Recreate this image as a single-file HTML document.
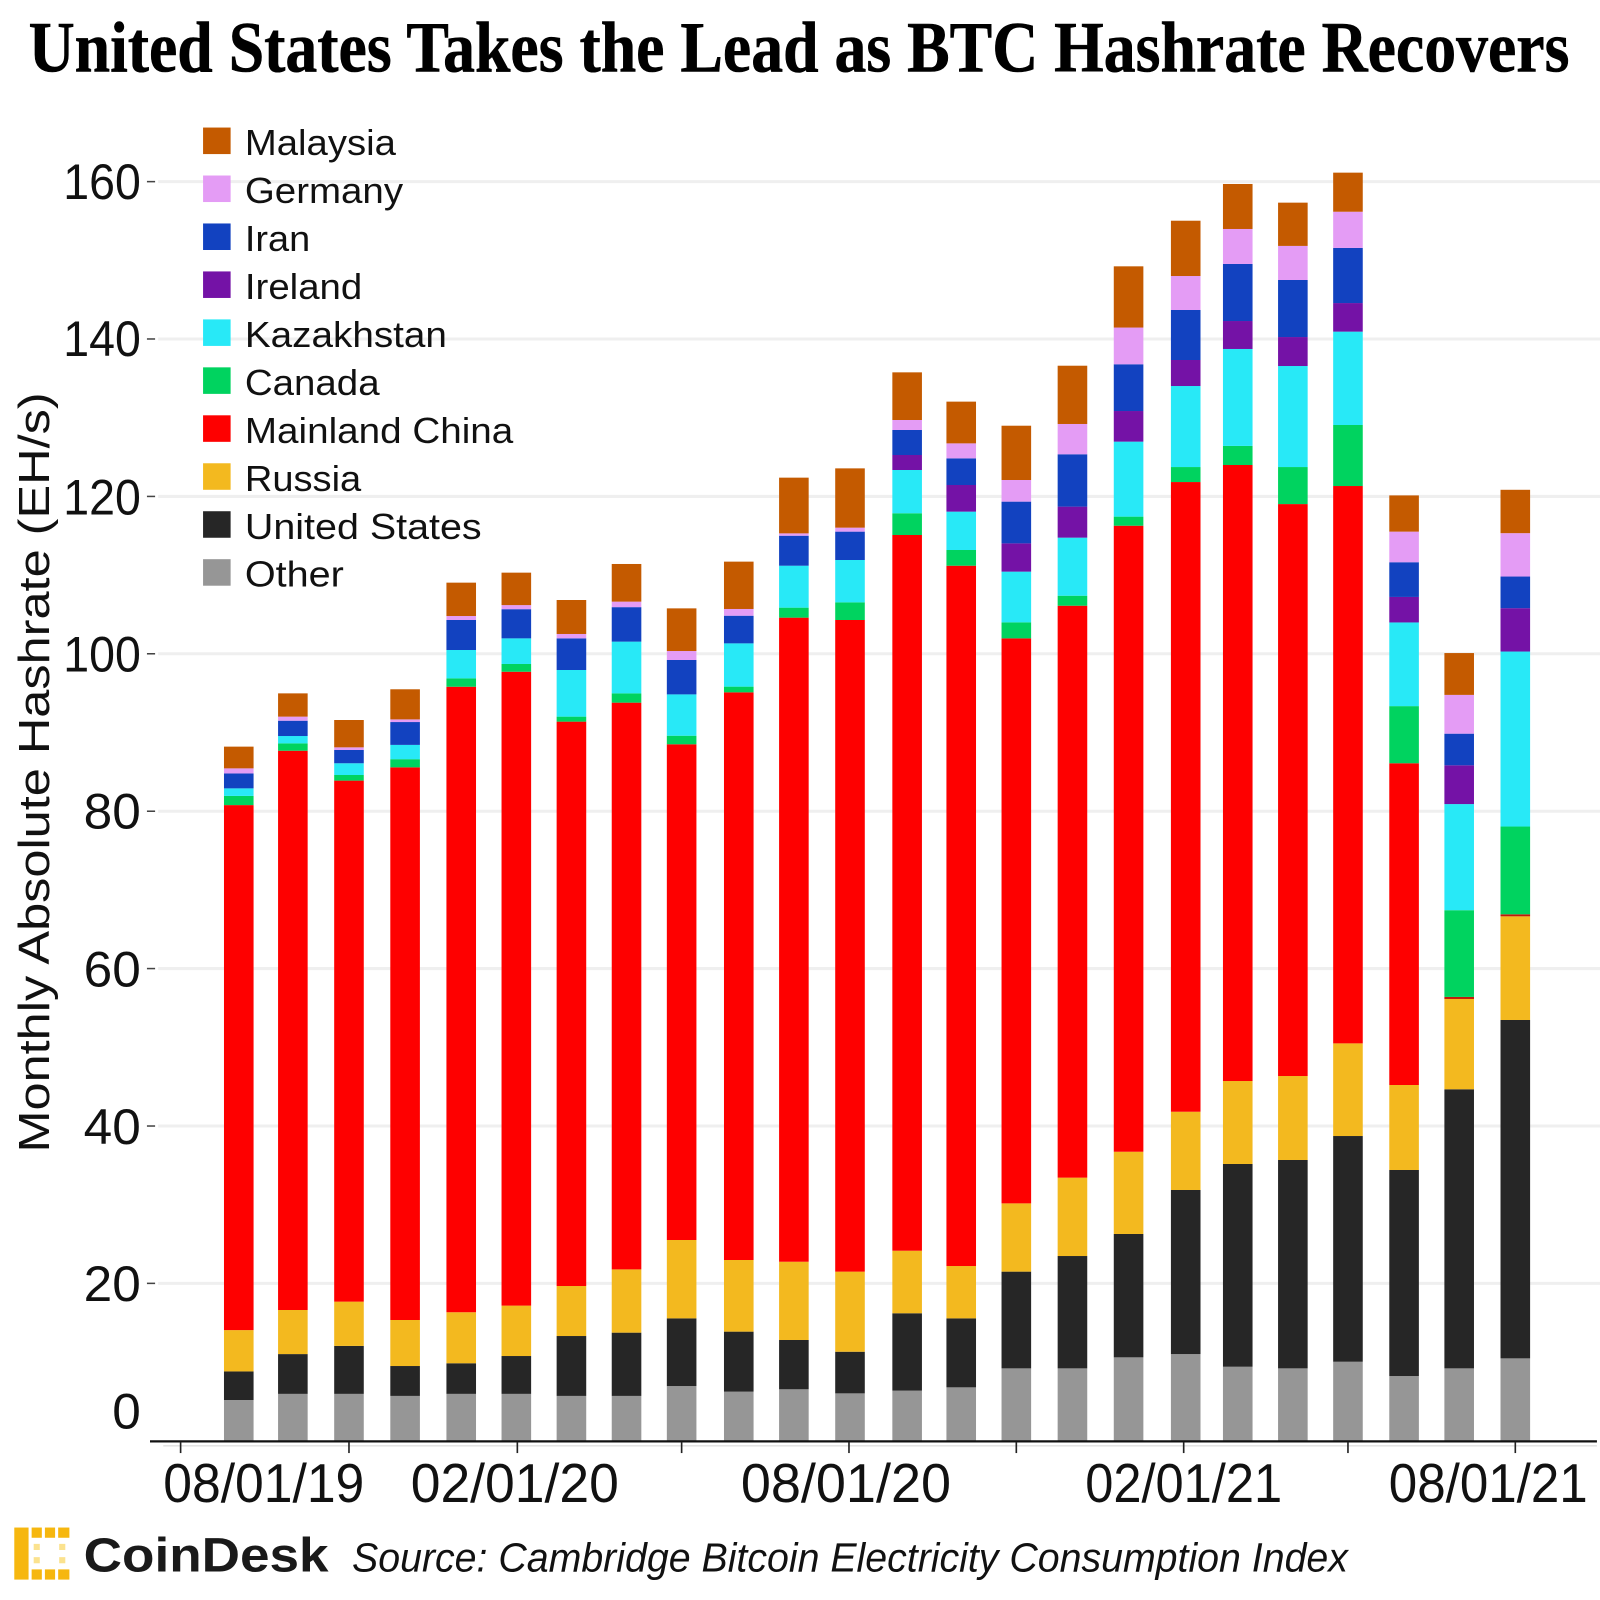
<!DOCTYPE html>
<html>
<head>
<meta charset="utf-8">
<style>
html,body{margin:0;padding:0;background:#fff;}
svg{display:block;}
</style>
</head>
<body>
<svg width="1600" height="1600" viewBox="0 0 1568 1568" xmlns="http://www.w3.org/2000/svg">
<rect x="0" y="0" width="1568" height="1568" fill="#fff"/>

<!-- Title -->
<text x="28" y="70" font-family="'Liberation Serif', serif" font-weight="bold" font-size="71" textLength="1510" lengthAdjust="spacingAndGlyphs" fill="#000" stroke="#000" stroke-width="0.6">United States Takes the Lead as BTC Hashrate Recovers</text>

<!-- Gridlines -->
<g stroke="#efefef" stroke-width="3">
<line x1="155" y1="178" x2="1568" y2="178"/>
<line x1="155" y1="332.2" x2="1568" y2="332.2"/>
<line x1="155" y1="486.5" x2="1568" y2="486.5"/>
<line x1="155" y1="640.7" x2="1568" y2="640.7"/>
<line x1="155" y1="795" x2="1568" y2="795"/>
<line x1="155" y1="949.2" x2="1568" y2="949.2"/>
<line x1="155" y1="1103.5" x2="1568" y2="1103.5"/>
<line x1="155" y1="1257.7" x2="1568" y2="1257.7"/>
</g>

<!-- Y tick labels -->
<g font-family="'Liberation Sans', Arial, sans-serif" font-size="49" fill="#111" text-anchor="end">
<text x="138" y="195" textLength="76" lengthAdjust="spacingAndGlyphs">160</text>
<text x="138" y="349" textLength="76" lengthAdjust="spacingAndGlyphs">140</text>
<text x="138" y="504" textLength="76" lengthAdjust="spacingAndGlyphs">120</text>
<text x="138" y="658" textLength="76" lengthAdjust="spacingAndGlyphs">100</text>
<text x="138" y="812" textLength="56" lengthAdjust="spacingAndGlyphs">80</text>
<text x="138" y="967" textLength="56" lengthAdjust="spacingAndGlyphs">60</text>
<text x="138" y="1121" textLength="56" lengthAdjust="spacingAndGlyphs">40</text>
<text x="138" y="1275" textLength="56" lengthAdjust="spacingAndGlyphs">20</text>
<text x="138" y="1400" textLength="28" lengthAdjust="spacingAndGlyphs">0</text>
</g>
<g stroke="#444" stroke-width="1.5">
<line x1="144" y1="178" x2="152" y2="178"/>
<line x1="144" y1="332.2" x2="152" y2="332.2"/>
<line x1="144" y1="486.5" x2="152" y2="486.5"/>
<line x1="144" y1="640.7" x2="152" y2="640.7"/>
<line x1="144" y1="795" x2="152" y2="795"/>
<line x1="144" y1="949.2" x2="152" y2="949.2"/>
<line x1="144" y1="1103.5" x2="152" y2="1103.5"/>
<line x1="144" y1="1257.7" x2="152" y2="1257.7"/>
</g>

<!-- Y axis title -->
<text transform="translate(48,757) rotate(-90)" text-anchor="middle" font-family="'Liberation Sans', Arial, sans-serif" font-size="43" textLength="745" lengthAdjust="spacingAndGlyphs" fill="#111">Monthly Absolute Hashrate (EH/s)</text>

<!-- Bars -->
<g>
<!-- Bar 1 -->
<rect x="219.5" y="1372" width="29" height="40" fill="#969696"/>
<rect x="219.5" y="1344" width="29" height="28" fill="#262626"/>
<rect x="219.5" y="1303.5" width="29" height="40.5" fill="#f3b91f"/>
<rect x="219.5" y="789" width="29" height="514.5" fill="#fe0000"/>
<rect x="219.5" y="780" width="29" height="9" fill="#00d35f"/>
<rect x="219.5" y="772.6" width="29" height="7.4" fill="#28e9f7"/>
<rect x="219.5" y="758" width="29" height="14.6" fill="#1242c0"/>
<rect x="219.5" y="753" width="29" height="5" fill="#e49cf5"/>
<rect x="219.5" y="731.7" width="29" height="21.3" fill="#c45a00"/>
<!-- Bar 2 -->
<rect x="272.5" y="1366" width="29" height="46" fill="#969696"/>
<rect x="272.5" y="1327" width="29" height="39" fill="#262626"/>
<rect x="272.5" y="1283.8" width="29" height="43.2" fill="#f3b91f"/>
<rect x="272.5" y="735.7" width="29" height="548.1" fill="#fe0000"/>
<rect x="272.5" y="728.5" width="29" height="7.2" fill="#00d35f"/>
<rect x="272.5" y="721.3" width="29" height="7.2" fill="#28e9f7"/>
<rect x="272.5" y="706.3" width="29" height="15" fill="#1242c0"/>
<rect x="272.5" y="702.3" width="29" height="4" fill="#e49cf5"/>
<rect x="272.5" y="679.5" width="29" height="22.8" fill="#c45a00"/>
<!-- Bar 3 -->
<rect x="327.5" y="1366" width="29" height="46" fill="#969696"/>
<rect x="327.5" y="1319" width="29" height="47" fill="#262626"/>
<rect x="327.5" y="1275.6" width="29" height="43.4" fill="#f3b91f"/>
<rect x="327.5" y="765" width="29" height="510.6" fill="#fe0000"/>
<rect x="327.5" y="759.5" width="29" height="5.5" fill="#00d35f"/>
<rect x="327.5" y="748" width="29" height="11.5" fill="#28e9f7"/>
<rect x="327.5" y="735" width="29" height="13" fill="#1242c0"/>
<rect x="327.5" y="732.4" width="29" height="2.6" fill="#e49cf5"/>
<rect x="327.5" y="705.6" width="29" height="26.8" fill="#c45a00"/>
<!-- Bar 4 -->
<rect x="382.5" y="1368" width="29" height="44" fill="#969696"/>
<rect x="382.5" y="1338.7" width="29" height="29.3" fill="#262626"/>
<rect x="382.5" y="1293.6" width="29" height="45.1" fill="#f3b91f"/>
<rect x="382.5" y="752" width="29" height="541.6" fill="#fe0000"/>
<rect x="382.5" y="744" width="29" height="8" fill="#00d35f"/>
<rect x="382.5" y="730" width="29" height="14" fill="#28e9f7"/>
<rect x="382.5" y="707.6" width="29" height="22.4" fill="#1242c0"/>
<rect x="382.5" y="705" width="29" height="2.6" fill="#e49cf5"/>
<rect x="382.5" y="675.5" width="29" height="29.5" fill="#c45a00"/>
<!-- Bar 5 -->
<rect x="437.5" y="1366" width="29" height="46" fill="#969696"/>
<rect x="437.5" y="1336" width="29" height="30" fill="#262626"/>
<rect x="437.5" y="1286" width="29" height="50" fill="#f3b91f"/>
<rect x="437.5" y="673" width="29" height="613" fill="#fe0000"/>
<rect x="437.5" y="664.8" width="29" height="8.2" fill="#00d35f"/>
<rect x="437.5" y="637" width="29" height="27.8" fill="#28e9f7"/>
<rect x="437.5" y="607.6" width="29" height="29.4" fill="#1242c0"/>
<rect x="437.5" y="603.7" width="29" height="3.9" fill="#e49cf5"/>
<rect x="437.5" y="571" width="29" height="32.7" fill="#c45a00"/>
<!-- Bar 6 -->
<rect x="491.5" y="1366" width="29" height="46" fill="#969696"/>
<rect x="491.5" y="1328.9" width="29" height="37.1" fill="#262626"/>
<rect x="491.5" y="1279.5" width="29" height="49.4" fill="#f3b91f"/>
<rect x="491.5" y="658.3" width="29" height="621.2" fill="#fe0000"/>
<rect x="491.5" y="650.7" width="29" height="7.6" fill="#00d35f"/>
<rect x="491.5" y="625.6" width="29" height="25.1" fill="#28e9f7"/>
<rect x="491.5" y="597" width="29" height="28.6" fill="#1242c0"/>
<rect x="491.5" y="593" width="29" height="4" fill="#e49cf5"/>
<rect x="491.5" y="561.2" width="29" height="31.8" fill="#c45a00"/>
<!-- Bar 7 -->
<rect x="545.5" y="1368" width="29" height="44" fill="#969696"/>
<rect x="545.5" y="1309.3" width="29" height="58.7" fill="#262626"/>
<rect x="545.5" y="1260.3" width="29" height="49" fill="#f3b91f"/>
<rect x="545.5" y="707.2" width="29" height="553.1" fill="#fe0000"/>
<rect x="545.5" y="702.3" width="29" height="4.9" fill="#00d35f"/>
<rect x="545.5" y="656.6" width="29" height="45.7" fill="#28e9f7"/>
<rect x="545.5" y="625.6" width="29" height="31" fill="#1242c0"/>
<rect x="545.5" y="621.3" width="29" height="4.3" fill="#e49cf5"/>
<rect x="545.5" y="588" width="29" height="33.3" fill="#c45a00"/>
<!-- Bar 8 -->
<rect x="599.5" y="1368" width="29" height="44" fill="#969696"/>
<rect x="599.5" y="1306" width="29" height="62" fill="#262626"/>
<rect x="599.5" y="1244" width="29" height="62" fill="#f3b91f"/>
<rect x="599.5" y="688.6" width="29" height="555.4" fill="#fe0000"/>
<rect x="599.5" y="679.5" width="29" height="9.1" fill="#00d35f"/>
<rect x="599.5" y="628.8" width="29" height="50.7" fill="#28e9f7"/>
<rect x="599.5" y="595" width="29" height="33.8" fill="#1242c0"/>
<rect x="599.5" y="589.6" width="29" height="5.4" fill="#e49cf5"/>
<rect x="599.5" y="552.7" width="29" height="36.9" fill="#c45a00"/>
<!-- Bar 9 -->
<rect x="653.5" y="1358.3" width="29" height="53.7" fill="#969696"/>
<rect x="653.5" y="1292" width="29" height="66.3" fill="#262626"/>
<rect x="653.5" y="1215.2" width="29" height="76.8" fill="#f3b91f"/>
<rect x="653.5" y="729.4" width="29" height="485.8" fill="#fe0000"/>
<rect x="653.5" y="721" width="29" height="8.4" fill="#00d35f"/>
<rect x="653.5" y="680.5" width="29" height="40.5" fill="#28e9f7"/>
<rect x="653.5" y="646.8" width="29" height="33.7" fill="#1242c0"/>
<rect x="653.5" y="638" width="29" height="8.8" fill="#e49cf5"/>
<rect x="653.5" y="596.2" width="29" height="41.8" fill="#c45a00"/>
<!-- Bar 10 -->
<rect x="709.5" y="1363.8" width="29" height="48.2" fill="#969696"/>
<rect x="709.5" y="1305" width="29" height="58.8" fill="#262626"/>
<rect x="709.5" y="1234.8" width="29" height="70.2" fill="#f3b91f"/>
<rect x="709.5" y="678.5" width="29" height="556.3" fill="#fe0000"/>
<rect x="709.5" y="672.9" width="29" height="5.6" fill="#00d35f"/>
<rect x="709.5" y="630.5" width="29" height="42.4" fill="#28e9f7"/>
<rect x="709.5" y="603.4" width="29" height="27.1" fill="#1242c0"/>
<rect x="709.5" y="596.8" width="29" height="6.6" fill="#e49cf5"/>
<rect x="709.5" y="550.4" width="29" height="46.4" fill="#c45a00"/>
<!-- Bar 11 -->
<rect x="763.5" y="1361.5" width="29" height="50.5" fill="#969696"/>
<rect x="763.5" y="1313.2" width="29" height="48.3" fill="#262626"/>
<rect x="763.5" y="1236.5" width="29" height="76.7" fill="#f3b91f"/>
<rect x="763.5" y="605.3" width="29" height="631.2" fill="#fe0000"/>
<rect x="763.5" y="595.5" width="29" height="9.8" fill="#00d35f"/>
<rect x="763.5" y="554.4" width="29" height="41.1" fill="#28e9f7"/>
<rect x="763.5" y="525" width="29" height="29.4" fill="#1242c0"/>
<rect x="763.5" y="522.7" width="29" height="2.3" fill="#e49cf5"/>
<rect x="763.5" y="468.1" width="29" height="54.6" fill="#c45a00"/>
<!-- Bar 12 -->
<rect x="818.5" y="1365.5" width="29" height="46.5" fill="#969696"/>
<rect x="818.5" y="1324.7" width="29" height="40.8" fill="#262626"/>
<rect x="818.5" y="1246.2" width="29" height="78.5" fill="#f3b91f"/>
<rect x="818.5" y="607.6" width="29" height="638.6" fill="#fe0000"/>
<rect x="818.5" y="590.3" width="29" height="17.3" fill="#00d35f"/>
<rect x="818.5" y="548.8" width="29" height="41.5" fill="#28e9f7"/>
<rect x="818.5" y="521" width="29" height="27.8" fill="#1242c0"/>
<rect x="818.5" y="517.1" width="29" height="3.9" fill="#e49cf5"/>
<rect x="818.5" y="459" width="29" height="58.1" fill="#c45a00"/>
<!-- Bar 13 -->
<rect x="874.5" y="1362.8" width="29" height="49.2" fill="#969696"/>
<rect x="874.5" y="1287" width="29" height="75.8" fill="#262626"/>
<rect x="874.5" y="1225.7" width="29" height="61.3" fill="#f3b91f"/>
<rect x="874.5" y="524.3" width="29" height="701.4" fill="#fe0000"/>
<rect x="874.5" y="503" width="29" height="21.3" fill="#00d35f"/>
<rect x="874.5" y="460.6" width="29" height="42.4" fill="#28e9f7"/>
<rect x="874.5" y="445.9" width="29" height="14.7" fill="#7412a6"/>
<rect x="874.5" y="421.4" width="29" height="24.5" fill="#1242c0"/>
<rect x="874.5" y="411.6" width="29" height="9.8" fill="#e49cf5"/>
<rect x="874.5" y="364.9" width="29" height="46.7" fill="#c45a00"/>
<!-- Bar 14 -->
<rect x="927.5" y="1359.6" width="29" height="52.4" fill="#969696"/>
<rect x="927.5" y="1292" width="29" height="67.6" fill="#262626"/>
<rect x="927.5" y="1240.7" width="29" height="51.3" fill="#f3b91f"/>
<rect x="927.5" y="554.4" width="29" height="686.3" fill="#fe0000"/>
<rect x="927.5" y="539" width="29" height="15.4" fill="#00d35f"/>
<rect x="927.5" y="501.4" width="29" height="37.6" fill="#28e9f7"/>
<rect x="927.5" y="475.3" width="29" height="26.1" fill="#7412a6"/>
<rect x="927.5" y="449.2" width="29" height="26.1" fill="#1242c0"/>
<rect x="927.5" y="434.5" width="29" height="14.7" fill="#e49cf5"/>
<rect x="927.5" y="393.6" width="29" height="40.9" fill="#c45a00"/>
<!-- Bar 15 -->
<rect x="981.5" y="1341" width="29" height="71" fill="#969696"/>
<rect x="981.5" y="1246.2" width="29" height="94.8" fill="#262626"/>
<rect x="981.5" y="1179.3" width="29" height="66.9" fill="#f3b91f"/>
<rect x="981.5" y="625.6" width="29" height="553.7" fill="#fe0000"/>
<rect x="981.5" y="609.9" width="29" height="15.7" fill="#00d35f"/>
<rect x="981.5" y="560.2" width="29" height="49.7" fill="#28e9f7"/>
<rect x="981.5" y="532.5" width="29" height="27.7" fill="#7412a6"/>
<rect x="981.5" y="491.6" width="29" height="40.9" fill="#1242c0"/>
<rect x="981.5" y="470.4" width="29" height="21.2" fill="#e49cf5"/>
<rect x="981.5" y="417.2" width="29" height="53.2" fill="#c45a00"/>
<!-- Bar 16 -->
<rect x="1036.5" y="1341" width="29" height="71" fill="#969696"/>
<rect x="1036.5" y="1230.9" width="29" height="110.1" fill="#262626"/>
<rect x="1036.5" y="1154.1" width="29" height="76.8" fill="#f3b91f"/>
<rect x="1036.5" y="593.6" width="29" height="560.5" fill="#fe0000"/>
<rect x="1036.5" y="583.8" width="29" height="9.8" fill="#00d35f"/>
<rect x="1036.5" y="526.9" width="29" height="56.9" fill="#28e9f7"/>
<rect x="1036.5" y="496.5" width="29" height="30.4" fill="#7412a6"/>
<rect x="1036.5" y="445.2" width="29" height="51.3" fill="#1242c0"/>
<rect x="1036.5" y="415.5" width="29" height="29.7" fill="#e49cf5"/>
<rect x="1036.5" y="358.4" width="29" height="57.1" fill="#c45a00"/>
<!-- Bar 17 -->
<rect x="1091.5" y="1330.2" width="29" height="81.8" fill="#969696"/>
<rect x="1091.5" y="1209.3" width="29" height="120.9" fill="#262626"/>
<rect x="1091.5" y="1128.7" width="29" height="80.6" fill="#f3b91f"/>
<rect x="1091.5" y="515.2" width="29" height="613.5" fill="#fe0000"/>
<rect x="1091.5" y="506.3" width="29" height="8.9" fill="#00d35f"/>
<rect x="1091.5" y="432.8" width="29" height="73.5" fill="#28e9f7"/>
<rect x="1091.5" y="402.8" width="29" height="30" fill="#7412a6"/>
<rect x="1091.5" y="357" width="29" height="45.8" fill="#1242c0"/>
<rect x="1091.5" y="321" width="29" height="36" fill="#e49cf5"/>
<rect x="1091.5" y="261" width="29" height="60" fill="#c45a00"/>
<!-- Bar 18 -->
<rect x="1147.5" y="1327" width="29" height="85" fill="#969696"/>
<rect x="1147.5" y="1166.2" width="29" height="160.8" fill="#262626"/>
<rect x="1147.5" y="1089.5" width="29" height="76.7" fill="#f3b91f"/>
<rect x="1147.5" y="472.4" width="29" height="617.1" fill="#fe0000"/>
<rect x="1147.5" y="457.7" width="29" height="14.7" fill="#00d35f"/>
<rect x="1147.5" y="378.3" width="29" height="79.4" fill="#28e9f7"/>
<rect x="1147.5" y="352.8" width="29" height="25.5" fill="#7412a6"/>
<rect x="1147.5" y="303.8" width="29" height="49" fill="#1242c0"/>
<rect x="1147.5" y="270.5" width="29" height="33.3" fill="#e49cf5"/>
<rect x="1147.5" y="216.3" width="29" height="54.2" fill="#c45a00"/>
<!-- Bar 19 -->
<rect x="1198.5" y="1339.4" width="29" height="72.6" fill="#969696"/>
<rect x="1198.5" y="1140.7" width="29" height="198.7" fill="#262626"/>
<rect x="1198.5" y="1059.4" width="29" height="81.3" fill="#f3b91f"/>
<rect x="1198.5" y="455.7" width="29" height="603.7" fill="#fe0000"/>
<rect x="1198.5" y="437" width="29" height="18.7" fill="#00d35f"/>
<rect x="1198.5" y="342" width="29" height="95" fill="#28e9f7"/>
<rect x="1198.5" y="314.6" width="29" height="27.4" fill="#7412a6"/>
<rect x="1198.5" y="258.7" width="29" height="55.9" fill="#1242c0"/>
<rect x="1198.5" y="224.4" width="29" height="34.3" fill="#e49cf5"/>
<rect x="1198.5" y="180.3" width="29" height="44.1" fill="#c45a00"/>
<!-- Bar 20 -->
<rect x="1252.5" y="1341" width="29" height="71" fill="#969696"/>
<rect x="1252.5" y="1136.8" width="29" height="204.2" fill="#262626"/>
<rect x="1252.5" y="1054.5" width="29" height="82.3" fill="#f3b91f"/>
<rect x="1252.5" y="494" width="29" height="560.5" fill="#fe0000"/>
<rect x="1252.5" y="457.7" width="29" height="36.3" fill="#00d35f"/>
<rect x="1252.5" y="358.7" width="29" height="99" fill="#28e9f7"/>
<rect x="1252.5" y="330.3" width="29" height="28.4" fill="#7412a6"/>
<rect x="1252.5" y="274.4" width="29" height="55.9" fill="#1242c0"/>
<rect x="1252.5" y="241" width="29" height="33.4" fill="#e49cf5"/>
<rect x="1252.5" y="198.6" width="29" height="42.4" fill="#c45a00"/>
<!-- Bar 21 -->
<rect x="1306.5" y="1334.5" width="29" height="77.5" fill="#969696"/>
<rect x="1306.5" y="1113.3" width="29" height="221.2" fill="#262626"/>
<rect x="1306.5" y="1022.5" width="29" height="90.8" fill="#f3b91f"/>
<rect x="1306.5" y="476.3" width="29" height="546.2" fill="#fe0000"/>
<rect x="1306.5" y="416.5" width="29" height="59.8" fill="#00d35f"/>
<rect x="1306.5" y="325" width="29" height="91.5" fill="#28e9f7"/>
<rect x="1306.5" y="297" width="29" height="28" fill="#7412a6"/>
<rect x="1306.5" y="243" width="29" height="54" fill="#1242c0"/>
<rect x="1306.5" y="207.5" width="29" height="35.5" fill="#e49cf5"/>
<rect x="1306.5" y="169.2" width="29" height="38.3" fill="#c45a00"/>
<!-- Bar 22 -->
<rect x="1361.5" y="1348.5" width="29" height="63.5" fill="#969696"/>
<rect x="1361.5" y="1146.6" width="29" height="201.9" fill="#262626"/>
<rect x="1361.5" y="1063.3" width="29" height="83.3" fill="#f3b91f"/>
<rect x="1361.5" y="748" width="29" height="315.3" fill="#fe0000"/>
<rect x="1361.5" y="692" width="29" height="56" fill="#00d35f"/>
<rect x="1361.5" y="610" width="29" height="82" fill="#28e9f7"/>
<rect x="1361.5" y="585" width="29" height="25" fill="#7412a6"/>
<rect x="1361.5" y="551" width="29" height="34" fill="#1242c0"/>
<rect x="1361.5" y="521" width="29" height="30" fill="#e49cf5"/>
<rect x="1361.5" y="485.5" width="29" height="35.5" fill="#c45a00"/>
<!-- Bar 23 -->
<rect x="1415.5" y="1341" width="29" height="71" fill="#969696"/>
<rect x="1415.5" y="1067.5" width="29" height="273.5" fill="#262626"/>
<rect x="1415.5" y="979" width="29" height="88.5" fill="#f3b91f"/>
<rect x="1415.5" y="977" width="29" height="2" fill="#c01a0a"/>
<rect x="1415.5" y="892" width="29" height="85" fill="#00d35f"/>
<rect x="1415.5" y="788" width="29" height="104" fill="#28e9f7"/>
<rect x="1415.5" y="750" width="29" height="38" fill="#7412a6"/>
<rect x="1415.5" y="719" width="29" height="31" fill="#1242c0"/>
<rect x="1415.5" y="681" width="29" height="38" fill="#e49cf5"/>
<rect x="1415.5" y="640" width="29" height="41" fill="#c45a00"/>
<!-- Bar 24 -->
<rect x="1470.5" y="1331.2" width="29" height="80.8" fill="#969696"/>
<rect x="1470.5" y="999.6" width="29" height="331.6" fill="#262626"/>
<rect x="1470.5" y="898" width="29" height="101.6" fill="#f3b91f"/>
<rect x="1470.5" y="896" width="29" height="2" fill="#c01a0a"/>
<rect x="1470.5" y="810" width="29" height="86" fill="#00d35f"/>
<rect x="1470.5" y="638.5" width="29" height="171.5" fill="#28e9f7"/>
<rect x="1470.5" y="596" width="29" height="42.5" fill="#7412a6"/>
<rect x="1470.5" y="565" width="29" height="31" fill="#1242c0"/>
<rect x="1470.5" y="522.5" width="29" height="42.5" fill="#e49cf5"/>
<rect x="1470.5" y="480" width="29" height="42.5" fill="#c45a00"/>
</g>

<!-- X axis -->
<line x1="147" y1="1412.5" x2="1565" y2="1412.5" stroke="#111" stroke-width="2.2"/>
<line x1="160" y1="1417" x2="1565" y2="1417" stroke="#d4d4d4" stroke-width="1"/>
<g stroke="#222" stroke-width="1.6">
<line x1="177" y1="1413" x2="177" y2="1424"/>
<line x1="342" y1="1413" x2="342" y2="1424"/>
<line x1="507" y1="1413" x2="507" y2="1424"/>
<line x1="668" y1="1413" x2="668" y2="1424"/>
<line x1="832" y1="1413" x2="832" y2="1424"/>
<line x1="996" y1="1413" x2="996" y2="1424"/>
<line x1="1160" y1="1413" x2="1160" y2="1424"/>
<line x1="1321" y1="1413" x2="1321" y2="1424"/>
<line x1="1485" y1="1413" x2="1485" y2="1424"/>
</g>
<g font-family="'Liberation Sans', Arial, sans-serif" font-size="54" fill="#111" text-anchor="middle">
<text x="258.5" y="1472" textLength="197" lengthAdjust="spacingAndGlyphs">08/01/19</text>
<text x="504.5" y="1472" textLength="204" lengthAdjust="spacingAndGlyphs">02/01/20</text>
<text x="829" y="1472" textLength="206" lengthAdjust="spacingAndGlyphs">08/01/20</text>
<text x="1160" y="1472" textLength="193" lengthAdjust="spacingAndGlyphs">02/01/21</text>
<text x="1458.5" y="1472" textLength="195" lengthAdjust="spacingAndGlyphs">08/01/21</text>
</g>

<!-- Legend -->
<g>
<rect x="199" y="125" width="27" height="26" fill="#c45a00"/>
<rect x="199" y="172" width="27" height="26" fill="#e49cf5"/>
<rect x="199" y="219" width="27" height="26" fill="#1242c0"/>
<rect x="199" y="266" width="27" height="26" fill="#7412a6"/>
<rect x="199" y="313" width="27" height="26" fill="#28e9f7"/>
<rect x="199" y="360" width="27" height="26" fill="#00d35f"/>
<rect x="199" y="407" width="27" height="26" fill="#fe0000"/>
<rect x="199" y="454" width="27" height="26" fill="#f3b91f"/>
<rect x="199" y="501" width="27" height="26" fill="#262626"/>
<rect x="199" y="548" width="27" height="26" fill="#969696"/>
</g>
<g font-family="'Liberation Sans', Arial, sans-serif" font-size="35" fill="#111">
<text x="240" y="152" textLength="148" lengthAdjust="spacingAndGlyphs">Malaysia</text>
<text x="240" y="199" textLength="155" lengthAdjust="spacingAndGlyphs">Germany</text>
<text x="240" y="246" textLength="64" lengthAdjust="spacingAndGlyphs">Iran</text>
<text x="240" y="293" textLength="115" lengthAdjust="spacingAndGlyphs">Ireland</text>
<text x="240" y="340" textLength="198" lengthAdjust="spacingAndGlyphs">Kazakhstan</text>
<text x="240" y="387" textLength="132" lengthAdjust="spacingAndGlyphs">Canada</text>
<text x="240" y="434" textLength="263" lengthAdjust="spacingAndGlyphs">Mainland China</text>
<text x="240" y="481" textLength="114" lengthAdjust="spacingAndGlyphs">Russia</text>
<text x="240" y="528" textLength="232" lengthAdjust="spacingAndGlyphs">United States</text>
<text x="240" y="575" textLength="97" lengthAdjust="spacingAndGlyphs">Other</text>
</g>

<!-- Footer logo -->
<g fill="#f6b70f">
<rect x="14" y="1497" width="14" height="51"/>
<rect x="31" y="1497" width="10" height="10"/>
<rect x="44" y="1497" width="10" height="10"/>
<rect x="57" y="1497" width="11" height="10"/>
<rect x="31" y="1538" width="10" height="10"/>
<rect x="44" y="1538" width="10" height="10"/>
<rect x="57" y="1538" width="11" height="10"/>
</g>
<g fill="#fbe28e">
<rect x="33" y="1513" width="6" height="6"/>
<rect x="33" y="1526" width="6" height="6"/>
<rect x="58" y="1513" width="6" height="6"/>
<rect x="58" y="1526" width="6" height="6"/>
</g>
<text x="82" y="1540" font-family="'Liberation Sans', Arial, sans-serif" font-weight="bold" font-size="47" textLength="240" lengthAdjust="spacingAndGlyphs" fill="#1a1a1a">CoinDesk</text>
<text x="345" y="1540" font-family="'Liberation Sans', Arial, sans-serif" font-style="italic" font-size="40" textLength="976" lengthAdjust="spacingAndGlyphs" fill="#111">Source: Cambridge Bitcoin Electricity Consumption Index</text>
</svg>
</body>
</html>
